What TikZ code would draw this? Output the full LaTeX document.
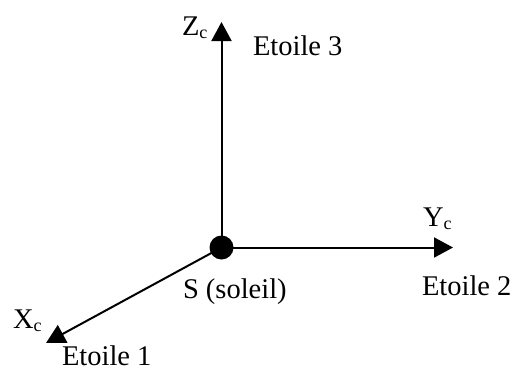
\documentclass[tikz,border=0pt]{standalone}
\usepackage{fontspec}
\setmainfont{Liberation Serif}
\usetikzlibrary{arrows.meta}
\tikzset{
  axis/.style={line width=2pt,-{Triangle[length=19pt,width=20pt]}},
  lbl/.style={anchor=base west,inner sep=0pt,outer sep=0pt,font=\fontsize{28.5}{32}\selectfont},
  sunball/.style={circle,fill=black,inner sep=0pt,minimum size=24pt}
}
\newcommand{\subc}{\raisebox{-3pt}{\fontsize{18}{20}\selectfont c}}
\begin{document}
\begin{tikzpicture}[x=1pt,y=-1pt]
\useasboundingbox (0,0) rectangle (516,372);
\node[sunball] (sun) at (221.5,247.5) {};
\coordinate (zt) at (221.5,22);
\coordinate (yt) at (453,247.5);
\coordinate (xt) at (46,343);
\draw[axis] (sun.center) -- (zt);
\draw[axis] (sun.center) -- (yt);
\draw[axis] (sun.center) -- (xt);
\node[lbl] (zl) at (182,35) {Z\subc};
\node[lbl] (yl) at (423,226) {Y\subc};
\node[lbl] (xl) at (13,328) {X\subc};
\node[lbl] (e3) at (253,55) {Etoile 3};
\node[lbl] (e2) at (422,295) {Etoile 2};
\node[lbl] (e1) at (62,365) {Etoile 1};
\node[lbl] (sl) at (183,298) {S (soleil)};
\end{tikzpicture}
\end{document}
